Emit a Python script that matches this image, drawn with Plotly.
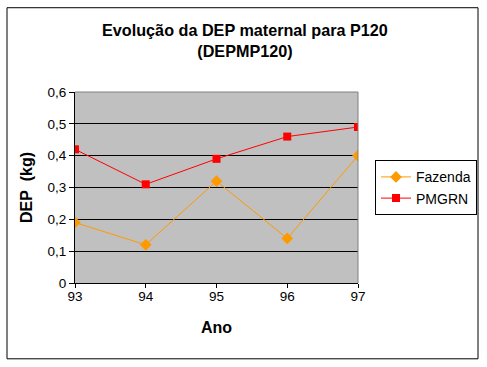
import plotly.graph_objects as go

anos = ["93", "94", "95", "96", "97"]
fazenda = [0.19, 0.12, 0.32, 0.14, 0.40]
pmgrn = [0.42, 0.31, 0.39, 0.46, 0.49]
y_ticks = [0, 0.1, 0.2, 0.3, 0.4, 0.5, 0.6]
y_tick_labels = ["0", "0,1", "0,2", "0,3", "0,4", "0,5", "0,6"]

x_idx = list(range(len(anos)))

L, R, T, B = 75, 358, 91.5, 283
W, H = 487, 367
pw, ph = R - L, B - T

fig = go.Figure()
fig.add_trace(go.Scatter(
    x=x_idx, y=fazenda, name="Fazenda", mode="lines+markers",
    line=dict(color="#FF9900", width=1),
    marker=dict(symbol="diamond", size=9, color="#FF9900"),
))
fig.add_trace(go.Scatter(
    x=x_idx, y=pmgrn, name="PMGRN", mode="lines+markers",
    line=dict(color="#FF0000", width=1),
    marker=dict(symbol="square", size=8, color="#FF0000"),
))

fig.update_layout(
    template="none",
    width=W, height=H,
    margin=dict(l=L, r=W - R, t=T, b=H - B, autoexpand=False),
    paper_bgcolor="white",
    plot_bgcolor="#C0C0C0",
    font=dict(family="Arial, Liberation Sans, sans-serif", size=13, color="black"),
    title=dict(
        text="<b>Evolução da DEP maternal para P120<br>(DEPMP120)</b>",
        x=0.503, xanchor="center", y=1 - 36 / H, yanchor="middle",
        font=dict(size=16.2, family="Arial, Liberation Sans, sans-serif", color="black"),
    ),
    xaxis=dict(
        range=[0, 4], tickmode="array", tickvals=x_idx, ticktext=anos,
        showgrid=False, zeroline=False, showline=True, linecolor="black", linewidth=1,
        ticks="outside", ticklen=4, tickcolor="black", automargin=False,
        tickfont=dict(size=13.5), ticklabelstandoff=-3,
        title=dict(text="<b>Ano</b>", font=dict(size=16), standoff=18),
    ),
    yaxis=dict(
        range=[0, 0.6], tickmode="array", tickvals=y_ticks, ticktext=y_tick_labels,
        showgrid=True, gridcolor="black", gridwidth=1, zeroline=False,
        showline=True, linecolor="black", linewidth=1,
        ticks="outside", ticklen=5, tickcolor="black", automargin=False,
        tickfont=dict(size=13.5),
        title=dict(text="<b>DEP\u00a0\u00a0(kg)</b>", font=dict(size=16), standoff=10),
    ),
    legend=dict(
        x=(375 - L) / pw, xanchor="left", y=1 - (160 - T) / ph, yanchor="top",
        bordercolor="black", borderwidth=1, bgcolor="white",
        font=dict(size=14), itemwidth=30, tracegroupgap=0,
    ),
    showlegend=True,
)

# plot area border top/right (gray)
fig.add_shape(type="line", xref="x domain", yref="y domain", x0=0, x1=1, y0=1, y1=1,
              line=dict(color="#808080", width=1))
fig.add_shape(type="line", xref="x domain", yref="y domain", x0=1, x1=1, y0=0, y1=1,
              line=dict(color="#808080", width=1))
# outer chart border
fig.add_shape(type="rect", xref="paper", yref="paper",
              x0=(7 - L) / pw, x1=(478 - L) / pw, y0=1 - (359 - T) / ph, y1=1 - (7 - T) / ph,
              line=dict(color="black", width=1), layer="below")

fig.write_html("out.html", config={"displayModeBar": False},
               post_script="document.body.style.margin='0';")
